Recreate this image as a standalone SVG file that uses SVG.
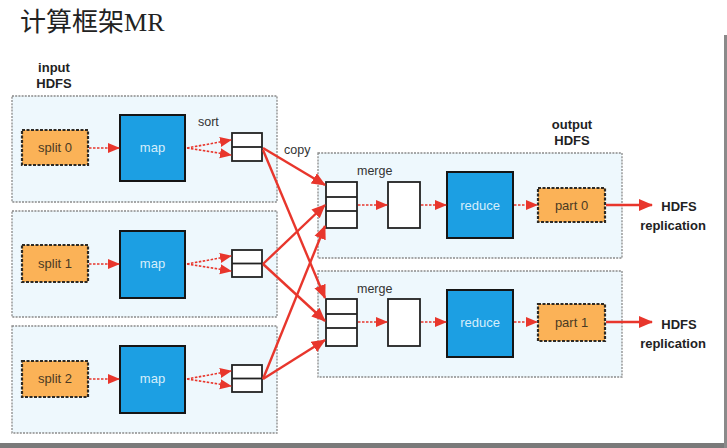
<svg xmlns="http://www.w3.org/2000/svg" width="727" height="448" viewBox="0 0 727 448">
<style>
.panel{fill:#eef8fd;stroke:#8a8a8a;stroke-width:1.3;stroke-dasharray:2 1.2}
.split{fill:#fbb257;stroke:#2e2a24;stroke-width:2.2;stroke-dasharray:3 1.5}
.task{fill:#1c9fe3;stroke:#151515;stroke-width:2}
.buf{fill:#ffffff;stroke:#222;stroke-width:1.8}
.lbl{font-family:"Liberation Sans",Arial,sans-serif;font-size:12.5px;fill:#333}
.stxt{font-family:"Liberation Sans",Arial,sans-serif;font-size:13px;fill:#4a3a24;text-anchor:middle}
.ttxt{font-family:"Liberation Sans",Arial,sans-serif;font-size:13px;fill:#d6eefb;text-anchor:middle}
.bold{font-family:"Liberation Sans",Arial,sans-serif;font-size:13px;font-weight:bold;fill:#222;text-anchor:middle}
.dash{fill:none;stroke:#e8362c;stroke-width:1.6;stroke-dasharray:2.5 1.5;marker-end:url(#ah)}
.solid{fill:none;stroke:#e8362c;stroke-width:2.4;marker-end:url(#ah2)}
</style>
<defs>
<marker id="ah" markerUnits="userSpaceOnUse" markerWidth="12" markerHeight="12" viewBox="0 0 12 12" refX="11" refY="6" orient="auto"><path d="M0,1 L12,6 L0,11 Z" fill="#e8362c"/></marker>
<marker id="ah2" markerUnits="userSpaceOnUse" markerWidth="14" markerHeight="14" viewBox="0 0 14 14" refX="13" refY="7" orient="auto"><path d="M0,1 L14,7 L0,13 Z" fill="#e8362c"/></marker>
</defs>
<rect width="727" height="448" fill="#ffffff"/>
<text x="20" y="31" font-family="'Noto Sans CJK SC',sans-serif" font-size="26" fill="#222">计算框架<tspan font-family="'Liberation Serif',serif">MR</tspan></text>
<text class="bold" x="54" y="72">input</text>
<text class="bold" x="54" y="88">HDFS</text>
<text class="bold" x="572" y="129">output</text>
<text class="bold" x="572" y="145">HDFS</text>

<g id="input-panel-0">
<rect class="panel" x="12" y="96" width="265" height="106"/>
<rect class="split" x="22" y="130" width="66" height="35"/>
<text class="stxt" x="55" y="152">split 0</text>
<rect class="task" x="120" y="115" width="65" height="66"/>
<text class="ttxt" x="152.5" y="152">map</text>
<rect class="buf" x="232" y="133" width="30" height="28"/>
<line x1="232" y1="147" x2="262" y2="147" stroke="#222" stroke-width="1.8"/>
<text class="lbl" x="198" y="126">sort</text>
</g>
<g id="input-panel-1">
<rect class="panel" x="12" y="211" width="265" height="106"/>
<rect class="split" x="22" y="245" width="66" height="37"/>
<text class="stxt" x="55" y="268">split 1</text>
<rect class="task" x="120" y="231" width="65" height="67"/>
<text class="ttxt" x="152.5" y="268">map</text>
<rect class="buf" x="232" y="250" width="30" height="27"/>
<line x1="232" y1="263.5" x2="262" y2="263.5" stroke="#222" stroke-width="1.8"/>
</g>
<g id="input-panel-2">
<rect class="panel" x="12" y="326" width="265" height="107"/>
<rect class="split" x="22" y="361" width="66" height="36"/>
<text class="stxt" x="55" y="383">split 2</text>
<rect class="task" x="120" y="346" width="65" height="67"/>
<text class="ttxt" x="152.5" y="383">map</text>
<rect class="buf" x="232" y="365" width="30" height="27"/>
<line x1="232" y1="378.5" x2="262" y2="378.5" stroke="#222" stroke-width="1.8"/>
</g>

<g id="output-panel-0">
<rect class="panel" x="318" y="153" width="304" height="105"/>
<text class="lbl" x="357" y="175">merge</text>
<rect class="buf" x="326" y="182" width="31" height="46"/>
<line x1="326" y1="197" x2="357" y2="197" stroke="#222" stroke-width="1.8"/>
<line x1="326" y1="211" x2="357" y2="211" stroke="#222" stroke-width="1.8"/>
<rect class="buf" x="388" y="182" width="32" height="46"/>
<rect class="task" x="447" y="172" width="66" height="66"/>
<text class="ttxt" x="480" y="210">reduce</text>
<rect class="split" x="538" y="188" width="67" height="34"/>
<text class="stxt" x="571.5" y="210">part 0</text>
</g>
<g id="output-panel-1">
<rect class="panel" x="318" y="271" width="304" height="106"/>
<text class="lbl" x="357" y="293">merge</text>
<rect class="buf" x="326" y="299" width="31" height="47"/>
<line x1="326" y1="314" x2="357" y2="314" stroke="#222" stroke-width="1.8"/>
<line x1="326" y1="328" x2="357" y2="328" stroke="#222" stroke-width="1.8"/>
<rect class="buf" x="388" y="299" width="32" height="47"/>
<rect class="task" x="447" y="290" width="66" height="67"/>
<text class="ttxt" x="480" y="327">reduce</text>
<rect class="split" x="538" y="304" width="67" height="37"/>
<text class="stxt" x="571.5" y="327">part 1</text>
</g>

<g id="hdfs-0"><text class="bold" x="679" y="211">HDFS</text><text class="bold" x="673" y="230">replication</text></g>
<g id="hdfs-1"><text class="bold" x="679" y="329">HDFS</text><text class="bold" x="673" y="348">replication</text></g>
<text class="lbl" x="284" y="154">copy</text>

<g id="connectors">
<line class="dash" x1="89" y1="148" x2="119" y2="148"/>
<line class="dash" x1="187" y1="148" x2="231" y2="140"/>
<line class="dash" x1="187" y1="148" x2="231" y2="155"/>
<line class="dash" x1="89" y1="264" x2="119" y2="264"/>
<line class="dash" x1="187" y1="264" x2="231" y2="256"/>
<line class="dash" x1="187" y1="264" x2="231" y2="271"/>
<line class="dash" x1="89" y1="379" x2="119" y2="379"/>
<line class="dash" x1="187" y1="379" x2="231" y2="371"/>
<line class="dash" x1="187" y1="379" x2="231" y2="386"/>

<line class="solid" x1="263" y1="148" x2="325" y2="185"/>
<line class="solid" x1="263" y1="150" x2="325" y2="298"/>
<line class="solid" x1="263" y1="264" x2="325" y2="205"/>
<line class="solid" x1="263" y1="264" x2="325" y2="321"/>
<line class="solid" x1="263" y1="379" x2="325" y2="226"/>
<line class="solid" x1="263" y1="379" x2="325" y2="340"/>

<line class="dash" x1="358" y1="205" x2="387" y2="205"/>
<line class="dash" x1="421" y1="205" x2="446" y2="205"/>
<line class="dash" x1="514" y1="205" x2="537" y2="205"/>
<line class="dash" x1="358" y1="322" x2="387" y2="322"/>
<line class="dash" x1="421" y1="322" x2="446" y2="322"/>
<line class="dash" x1="514" y1="322" x2="537" y2="322"/>
<line class="solid" x1="606" y1="205" x2="652" y2="205" stroke-width="3"/>
<line class="solid" x1="606" y1="322" x2="652" y2="322" stroke-width="3"/>
</g>
<rect x="0" y="443" width="727" height="5" fill="#7a7a7a"/>
<rect x="724" y="35" width="3" height="413" fill="#8a8a8a"/>
</svg>
